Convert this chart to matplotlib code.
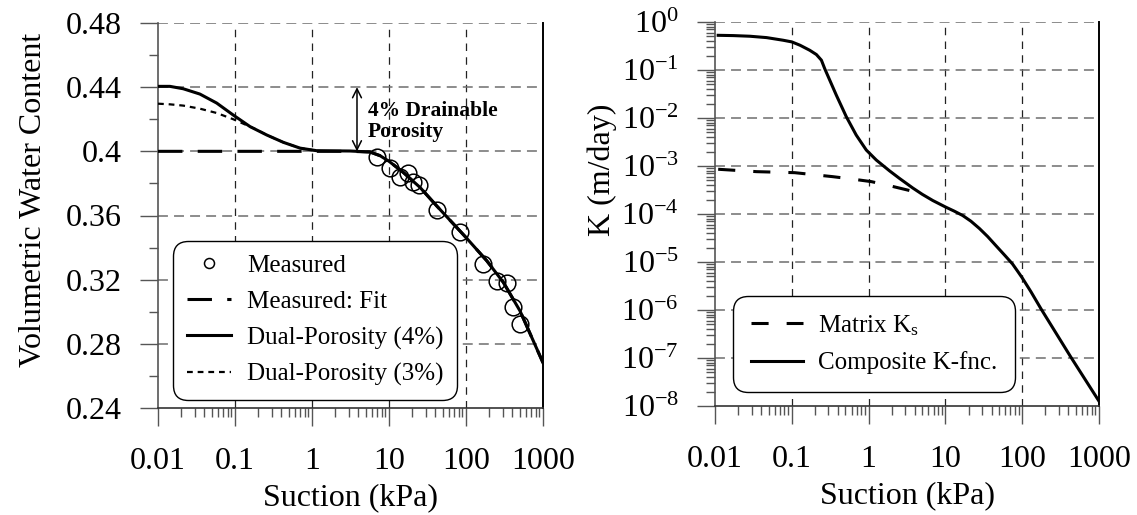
import numpy as np
import matplotlib
matplotlib.use("Agg")
import matplotlib.pyplot as plt
from matplotlib.lines import Line2D
from matplotlib.ticker import MultipleLocator, LogLocator, NullFormatter

plt.rcParams['font.family'] = ['Liberation Serif', 'DejaVu Serif']
plt.rcParams['mathtext.fontset'] = 'custom'
plt.rcParams['mathtext.rm'] = 'Liberation Serif'
plt.rcParams['mathtext.it'] = 'Liberation Serif:italic'
plt.rcParams['mathtext.bf'] = 'Liberation Serif:bold'

# ---------------- data: left panel (water content) ----------------
meas_suction = [7.0, 10.3, 13.9, 17.7, 20.4, 24.5, 42, 83.6, 166, 251, 339, 408, 500]
meas_theta = [0.3963, 0.3894, 0.3838, 0.3863, 0.3807, 0.3788, 0.3632, 0.3495,
              0.330, 0.319, 0.3178, 0.3028, 0.2922]

fit_suction = [0.01, 0.1, 1.0, 3.12, 5.66, 7.64, 10, 15.3, 25.3, 41.6, 68.5, 100,
               186, 306, 503, 1000]
fit_theta = [0.400, 0.400, 0.400, 0.4000, 0.3996, 0.3973, 0.3938, 0.3869, 0.3775,
             0.366, 0.3548, 0.3463, 0.3318, 0.3183, 0.3005, 0.2682]

dp4_suction = [0.01, 0.0143, 0.0213, 0.035, 0.0578, 0.095, 0.157, 0.258, 0.425,
               0.70, 1.15, 3.12, 5.66, 7.64, 10, 15.3, 25.3, 41.6, 68.5, 100,
               186, 306, 503, 1000]
dp4_theta = [0.4405, 0.4405, 0.4390, 0.4357, 0.4301, 0.4226, 0.4154, 0.4102,
             0.4056, 0.4020, 0.4004, 0.4002, 0.3996, 0.3973, 0.3938, 0.3869,
             0.3775, 0.366, 0.3548, 0.3463, 0.3318, 0.3183, 0.3005, 0.2682]

dp3_suction = [0.01, 0.0143, 0.0213, 0.035, 0.0578, 0.095, 0.142, 0.19, 0.258,
               0.425, 0.70, 1.15]
dp3_theta = [0.4297, 0.4293, 0.4285, 0.4266, 0.4239, 0.4200, 0.4163, 0.4136,
             0.4102, 0.4056, 0.4020, 0.4004]

# ---------------- data: right panel (conductivity) ----------------
ks_suction = [0.011, 0.035, 0.109, 0.34, 0.60, 1.09, 1.87, 3.4, 4.6]
ks_k = [8.55e-4, 7.62e-4, 7.26e-4, 6.0e-4, 5.37e-4, 4.72e-4, 3.89e-4, 3.09e-4, 2.71e-4]

comp_suction = [0.011, 0.0173, 0.0285, 0.047, 0.077, 0.1, 0.128, 0.171, 0.209,
                0.243, 0.268, 0.312, 0.38, 0.513, 0.69, 0.933, 1.26, 1.87, 2.53,
                3.77, 5.0, 6.85, 10.2, 13.0, 16.8, 21.5, 27.7, 35.5, 45.5, 60,
                74.8, 87, 100, 130, 175, 429, 1000]
comp_k = [0.528, 0.521, 0.505, 0.473, 0.417, 0.385, 0.328, 0.258, 0.210, 0.160,
          0.107, 0.0614, 0.0299, 0.0106, 4.41e-3, 2.15e-3, 1.33e-3, 7.94e-4,
          5.5e-4, 3.47e-4, 2.57e-4, 1.91e-4, 1.38e-4, 1.15e-4, 9.3e-5, 7.08e-5,
          5.0e-5, 3.39e-5, 2.19e-5, 1.35e-5, 9.1e-6, 6.46e-6, 4.68e-6, 2.4e-6,
          1.07e-6, 1.05e-7, 1.26e-8]

x_ticks = [0.01, 0.1, 1, 10, 100, 1000]
x_ticklabels = ['0.01', '0.1', '1', '10', '100', '1000']
theta_ticks = [0.24, 0.28, 0.32, 0.36, 0.4, 0.44, 0.48]
theta_ticklabels = ['0.24', '0.28', '0.32', '0.36', '0.4', '0.44', '0.48']

W, H = 1137, 515
fig = plt.figure(figsize=(W / 100, H / 100), dpi=100)
axL = fig.add_axes([158 / W, 1 - 408 / H, 385 / W, 385 / H])
axR = fig.add_axes([715 / W, 1 - 406 / H, 384 / W, 384 / H])

LW = 2.2
TICKC = '#555555'


def style_axes(ax):
    ax.set_xscale('log')
    ax.set_xlim(0.01, 1000)
    ax.set_xticks(x_ticks, x_ticklabels)
    ax.xaxis.set_minor_locator(LogLocator(base=10, subs=np.arange(2, 10), numticks=100))
    ax.xaxis.set_minor_formatter(NullFormatter())
    ax.spines['top'].set_visible(False)
    ax.spines['left'].set_color(TICKC)
    ax.spines['left'].set_linewidth(1.2)
    ax.spines['bottom'].set_color('#333333')
    ax.spines['bottom'].set_linewidth(1.2)
    ax.spines['right'].set_color('black')
    ax.spines['right'].set_linewidth(1.4)
    ax.tick_params(axis='both', which='major', direction='out', length=13,
                   width=1.0, color=TICKC, labelsize=23)
    ax.tick_params(axis='both', which='minor', direction='out', length=6.5,
                   width=1.0, color=TICKC)
    ax.tick_params(axis='x', which='major', pad=15)
    ax.tick_params(axis='y', which='major', pad=13)
    for v in x_ticks[1:-1]:
        ax.axvline(v, color='#222222', lw=0.9, dashes=(6, 5), zorder=1)
    ax.set_xlabel('Suction (kPa)', fontsize=23, labelpad=5)


# ---------------- left panel ----------------
style_axes(axL)
axL.set_ylim(0.24, 0.48)
axL.set_yticks(theta_ticks, theta_ticklabels)
axL.yaxis.set_minor_locator(MultipleLocator(0.02))
for v in theta_ticks[1:]:
    axL.axhline(v, color='#6e6e6e', lw=1.1, dashes=(6.5, 4), zorder=1)

axL.plot(fit_suction, fit_theta, color='black', lw=LW, dashes=(8, 5), zorder=3)
axL.plot(dp3_suction, dp3_theta, color='black', lw=1.6, dashes=(2.6, 2.2), zorder=3)
axL.plot(dp4_suction, dp4_theta, color='black', lw=LW, zorder=4)
axL.plot(meas_suction, meas_theta, ls='none', marker='o', markersize=12,
         markerfacecolor='none', markeredgecolor='black', markeredgewidth=1.1, zorder=5)

axL.annotate('', xy=(3.84, 0.4), xytext=(3.84, 0.44),
             arrowprops=dict(arrowstyle='<->', lw=1.1, color='black',
                             shrinkA=0, shrinkB=0, mutation_scale=16), zorder=6)
axL.text(5.3, 0.4187, '4% Drainable\nPorosity', fontsize=15.5, fontweight='bold',
         ha='left', va='center', linespacing=1.05, zorder=6)

axL.set_ylabel('Volumetric Water Content', fontsize=23)
axL.yaxis.set_label_coords(-0.285, 0.54)

hL = [Line2D([], [], ls='none', marker='o', markersize=12, markerfacecolor='none',
             markeredgecolor='black', markeredgewidth=1.1),
      Line2D([], [], color='black', lw=LW, dashes=(8, 5)),
      Line2D([], [], color='black', lw=LW),
      Line2D([], [], color='black', lw=1.6, dashes=(2.6, 2.2))]
labL = ['Measured', 'Measured: Fit', 'Dual-Porosity (4%)', 'Dual-Porosity (3%)']
legL = axL.legend(hL, labL, loc='lower left', bbox_to_anchor=(173 / W, 1 - 400 / H),
                  bbox_transform=fig.transFigure, fontsize=18, handlelength=1.76,
                  handletextpad=0.64, labelspacing=0.54, borderpad=0.55,
                  borderaxespad=0, frameon=True, fancybox=True, framealpha=1,
                  edgecolor='black', markerscale=0.6)
legL.get_frame().set_linewidth(1.0)
legL.get_frame().set_boxstyle('round', pad=0, rounding_size=0.6)
legL.set_zorder(10)

# ---------------- right panel ----------------
style_axes(axR)
axR.set_yscale('log')
axR.set_ylim(1e-8, 1)
axR.yaxis.set_major_locator(LogLocator(base=10, numticks=20))
axR.yaxis.set_minor_locator(LogLocator(base=10, subs=np.arange(2, 10), numticks=100))
axR.yaxis.set_minor_formatter(NullFormatter())
axR.tick_params(axis='both', which='major', length=13, width=1.0, color=TICKC)
axR.tick_params(axis='y', which='major', pad=13)
for e in range(-7, 1):
    axR.axhline(10.0 ** e, color='#6e6e6e', lw=1.1, dashes=(6.5, 4), zorder=1)

axR.plot(ks_suction, ks_k, color='black', lw=LW, dashes=(5.6, 5.9), zorder=3)
axR.plot(comp_suction, comp_k, color='black', lw=LW, zorder=4)

axR.set_ylabel('K (m/day)', fontsize=23)
axR.yaxis.set_label_coords(-0.255, 0.615)

hR = [Line2D([], [], color='black', lw=LW, dashes=(5.6, 5.9)),
      Line2D([], [], color='black', lw=LW)]
labR = ['Matrix K$_\\mathregular{s}$', 'Composite K-fnc.']
legR = axR.legend(hR, labR, loc='lower left', bbox_to_anchor=(733 / W, 1 - 392 / H),
                  bbox_transform=fig.transFigure, fontsize=18, handlelength=2.1,
                  handletextpad=0.6, labelspacing=0.55, borderpad=0.7,
                  borderaxespad=0, frameon=True, fancybox=True, framealpha=1,
                  edgecolor='black')
legR.get_frame().set_linewidth(1.0)
legR.get_frame().set_boxstyle('round', pad=0, rounding_size=0.6)
legR.set_zorder(10)

fig.savefig('out.png', dpi=100)
